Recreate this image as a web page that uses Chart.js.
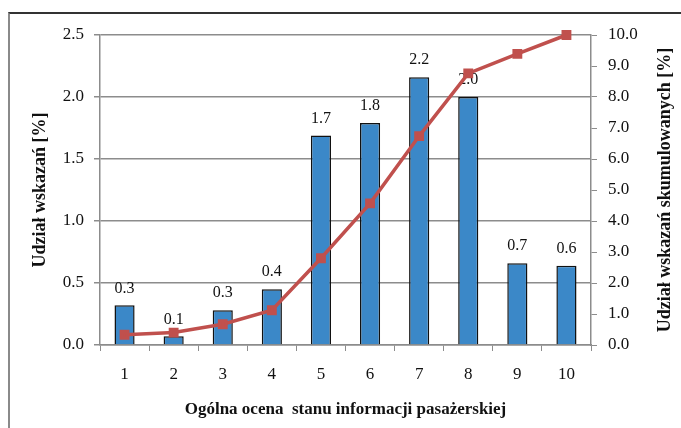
<!DOCTYPE html>
<html>
<head>
<meta charset="utf-8">
<script src="https://cdn.jsdelivr.net/npm/chart.js@4/dist/chart.umd.min.js"></script>
<style>
  body { margin: 0; background: #fff; }
  #wrap { position: relative; width: 681px; height: 428px; }
  #frame { position: absolute; left: 8px; top: 12px; width: 700px; height: 430px;
           border-top: 2px solid #333; border-left: 2px solid #8a8a8a; }
  canvas { position: absolute; left: 0; top: 0; }
</style>
</head>
<body>
<div id="wrap">
  <div id="frame"></div>
  <canvas id="myChart" width="681" height="428"></canvas>
</div>
<script>
// data
const categories = ["1", "2", "3", "4", "5", "6", "7", "8", "9", "10"];
const shareValues = [0.32, 0.07, 0.28, 0.45, 1.69, 1.79, 2.16, 2.00, 0.66, 0.64];
const shareLabels = ["0.3", "0.1", "0.3", "0.4", "1.7", "1.8", "2.2", "2.0", "0.7", "0.6"];
const cumulativeValues = [0.33, 0.40, 0.67, 1.12, 2.80, 4.57, 6.74, 8.76, 9.39, 10.0];

const leftTitle = "Udział wskazań [%]";
const rightTitle = "Udział wskazań skumulowanych [%]";
const xTitle = "Ogólna ocena  stanu informacji pasażerskiej";

const serif = "'Liberation Serif', 'Times New Roman', serif";

// value labels above the bars + right axis title (reads bottom to top)
const extras = {
  id: "extras",
  beforeDatasetsDraw(chart) {
    const ctx = chart.ctx;
    const meta = chart.getDatasetMeta(0);
    ctx.save();
    ctx.font = "16px " + serif;
    ctx.fillStyle = "#111";
    ctx.textAlign = "center";
    ctx.textBaseline = "middle";
    meta.data.forEach((bar, i) => {
      ctx.fillText(shareLabels[i], bar.x, bar.y - 17);
    });
    ctx.restore();
  },
  afterDraw(chart) {
    const ctx = chart.ctx;
    const area = chart.chartArea;
    ctx.save();
    ctx.font = "bold 18px " + serif;
    ctx.fillStyle = "#111";
    ctx.textAlign = "center";
    ctx.textBaseline = "middle";
    ctx.translate(665, (area.top + area.bottom) / 2);
    ctx.rotate(-Math.PI / 2);
    ctx.fillText(rightTitle, 0, 0);
    ctx.restore();
  }
};

const data = {
  labels: categories,
  datasets: [
    {
      type: "bar",
      data: shareValues,
      yAxisID: "y",
      backgroundColor: "#3b88c8",
      borderColor: "#111",
      borderWidth: 1.5,
      barPercentage: 0.41,
      categoryPercentage: 1,
      order: 1
    },
    {
      type: "line",
      data: cumulativeValues,
      yAxisID: "y2",
      borderColor: "#c0504d",
      backgroundColor: "#c0504d",
      borderWidth: 3.5,
      pointStyle: "rect",
      pointRadius: 4.5,
      pointHoverRadius: 4.5,
      tension: 0,
      clip: false,
      order: 0
    }
  ]
};

const config = {
  data: data,
  options: {
    responsive: false,
    animation: false,
    layout: { padding: { top: 35, left: 0, right: 0, bottom: 0 } },
    plugins: { legend: { display: false }, tooltip: { enabled: false } },
    scales: {
      x: {
        grid: { display: true, drawOnChartArea: false, tickLength: 6, color: "#8c8c8c", offset: true },
        border: { color: "#8c8c8c", width: 1.5 },
        ticks: { color: "#111", font: { family: serif, size: 17 }, padding: 13 },
        title: { display: true, text: xTitle, color: "#111",
                 font: { family: serif, size: 17, weight: "bold" }, padding: { top: 0, bottom: 8 } },
        afterFit(scale) { scale.height = 83; }
      },
      y: {
        position: "left",
        min: 0, max: 2.5,
        ticks: { stepSize: 0.5, color: "#111", font: { family: serif, size: 17 }, padding: 10,
                 callback: v => v.toFixed(1) },
        grid: { color: "#8c8c8c", lineWidth: 1.5, tickLength: 6 },
        border: { color: "#8c8c8c", width: 1.5 },
        title: { display: true, text: leftTitle, color: "#111",
                 font: { family: serif, size: 18, weight: "bold" }, padding: { top: 30, bottom: 0 } },
        afterFit(scale) { scale.width = 100; }
      },
      y2: {
        position: "right",
        min: 0, max: 10,
        ticks: { stepSize: 1, color: "#111", font: { family: serif, size: 17 }, padding: 11,
                 callback: v => v.toFixed(1) },
        grid: { drawOnChartArea: false, color: "#8c8c8c", tickLength: 6 },
        border: { color: "#8c8c8c", width: 1.5 },
        afterFit(scale) { scale.width = 90; }
      }
    }
  },
  plugins: [extras]
};

const myChart = new Chart(document.getElementById("myChart"), config);
</script>
</body>
</html>
